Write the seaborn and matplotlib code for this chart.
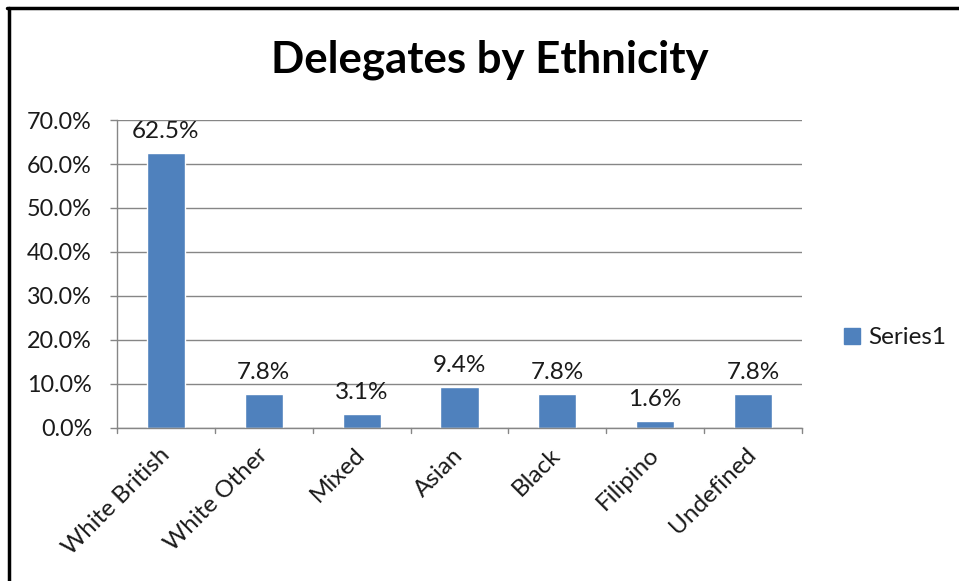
import matplotlib
matplotlib.use("Agg")
import matplotlib.pyplot as plt
from matplotlib.lines import Line2D
from matplotlib.ticker import MultipleLocator, FuncFormatter
import seaborn as sns
import pandas as pd

categories = ["White British", "White Other", "Mixed", "Asian", "Black", "Filipino", "Undefined"]
shares = [62.5, 7.8, 3.1, 9.4, 7.8, 1.6, 7.8]
series_name = "Series1"
title = "Delegates by Ethnicity"

sns.set_theme(style="white")
plt.rcParams["font.family"] = ["Lato", "DejaVu Sans"]

bar_color = "#4F81BD"
grid_color = "#868686"
text_color = "#1a1a1a"
label_size = 17.5
number_size = 16.8

df = pd.DataFrame({"Ethnicity": categories, "Share": shares, "Series": series_name})

fig = plt.figure(figsize=(9.59, 5.81), dpi=100)
ax = fig.add_axes([117 / 959, 1 - 428 / 581, (802 - 117) / 959, (428 - 120) / 581])

sns.barplot(data=df, x="Ethnicity", y="Share", hue="Series", palette=[bar_color],
            width=0.39, ax=ax, legend=False, saturation=1)

ax.set_ylim(0, 70)
ax.set_xlim(-0.5, len(categories) - 0.5)
ax.yaxis.set_major_locator(MultipleLocator(10))
ax.yaxis.set_major_formatter(FuncFormatter(lambda v, _: f"{v:.1f}%"))
ax.grid(axis="y", color=grid_color, linewidth=1)
ax.set_axisbelow(True)
ax.set_xlabel("")
ax.set_ylabel("")

for side in ["top", "right"]:
    ax.spines[side].set_visible(False)
for side in ["left", "bottom"]:
    ax.spines[side].set_color(grid_color)
    ax.spines[side].set_linewidth(1)

ax.tick_params(axis="y", length=5, color=grid_color, width=1, pad=13,
               labelsize=number_size, labelcolor=text_color, left=True)
ax.set_xticks([i for i in range(len(categories))])
ax.tick_params(axis="x", length=0, pad=17, labelsize=label_size, labelcolor=text_color)
for lbl in ax.get_xticklabels():
    lbl.set_rotation(45)
    lbl.set_ha("right")
    lbl.set_va("center")
    lbl.set_rotation_mode("anchor")

# category separators below the axis
for b in range(len(categories) + 1):
    ax.plot([b - 0.5, b - 0.5], [0, -1.1], color=grid_color, lw=1, clip_on=False)

for i, v in enumerate(shares):
    ax.annotate(f"{v:.1f}%", (i, v), xytext=(0, 8), textcoords="offset points",
                ha="center", va="bottom", fontsize=label_size, color=text_color)

fig.suptitle(title, x=490 / 959, y=1 - 60 / 581, va="center",
             fontsize=31.5, fontweight="bold", color="black")

# legend
handle = plt.Rectangle((0, 0), 1, 1, color=bar_color)
fig.legend([handle], [series_name], loc="center left",
           bbox_to_anchor=(822 / 959, 1 - 338 / 581), frameon=False,
           fontsize=label_size, handlelength=0.65, handleheight=0.65, handletextpad=0.35,
           labelcolor=text_color)

# chart frame
fig.add_artist(Line2D([8.5 / 959, 8.5 / 959], [0, 1 - 8 / 581], color="black", lw=2.5,
                      transform=fig.transFigure))
fig.add_artist(Line2D([7 / 959, 1], [1 - 8 / 581, 1 - 8 / 581], color="black", lw=2.5,
                      transform=fig.transFigure))

fig.savefig("out.png", dpi=100)
